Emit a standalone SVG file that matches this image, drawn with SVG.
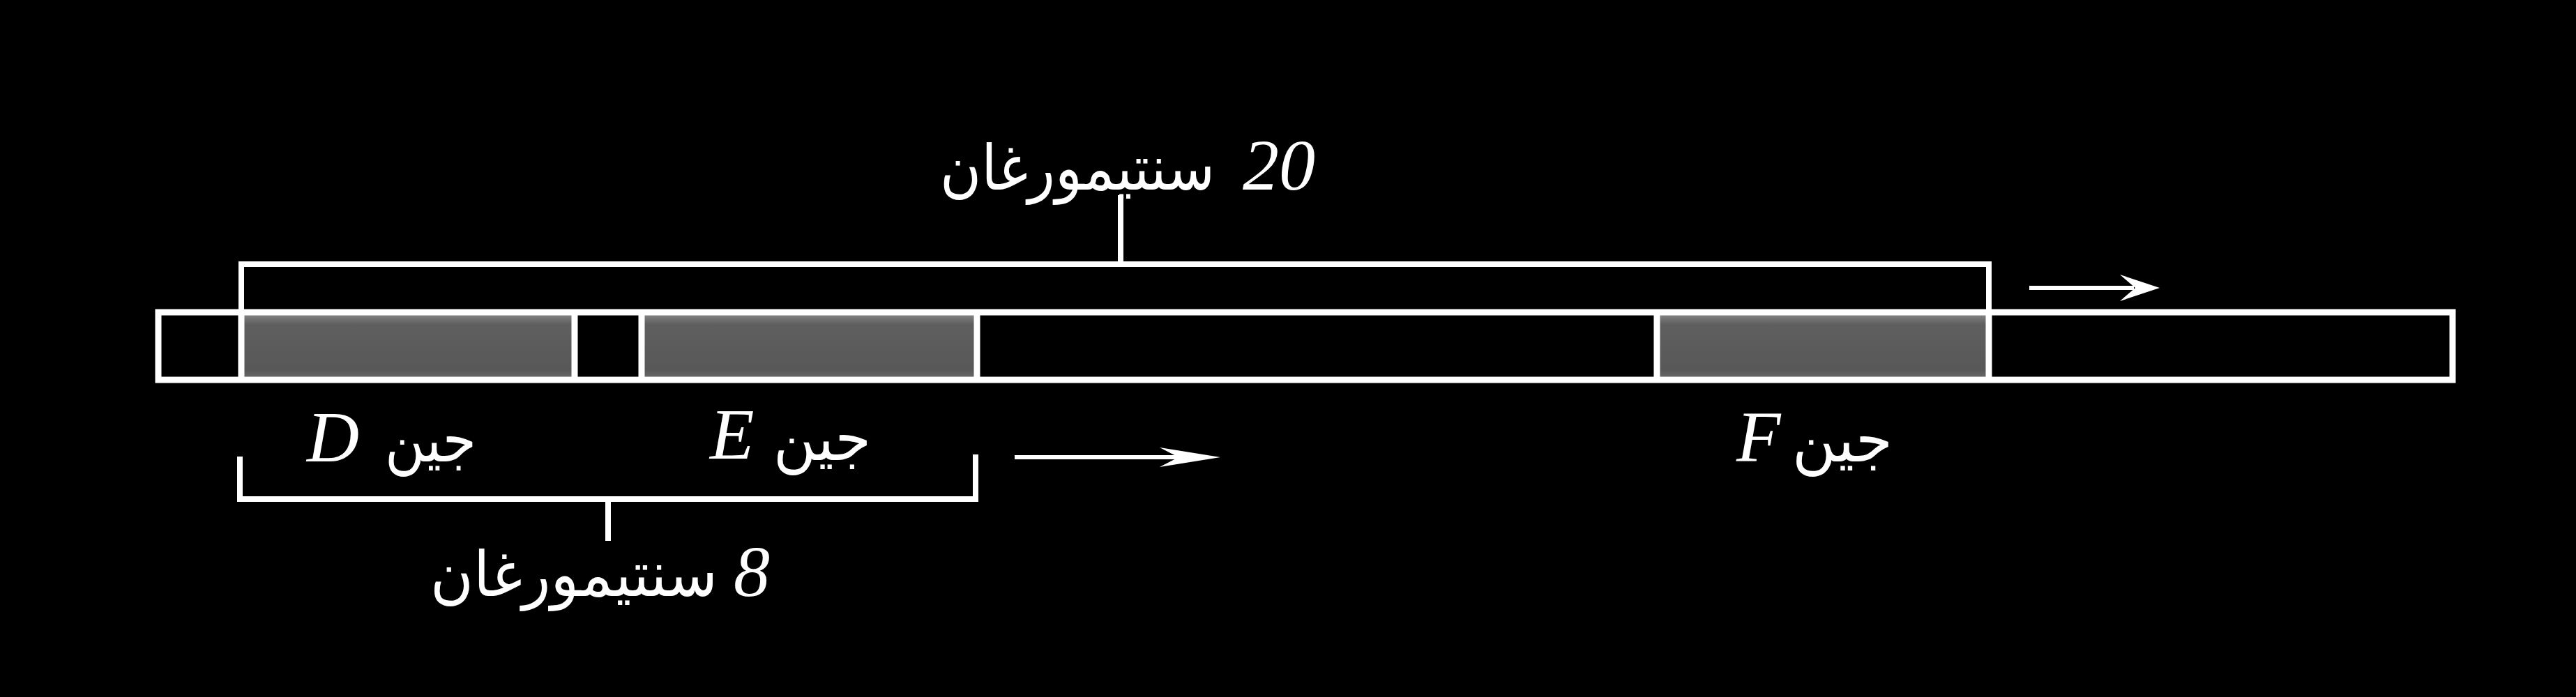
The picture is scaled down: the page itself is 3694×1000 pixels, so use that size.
<svg xmlns="http://www.w3.org/2000/svg" width="3694" height="1000" viewBox="0 0 3694 1000">
<style>
.ln{stroke:#fff;stroke-width:9;fill:none}
.br{stroke:#fff;stroke-width:8;fill:none}
.ar{stroke:#fff;stroke-width:6;fill:none}
.lat{font-family:"Liberation Serif","Times New Roman",serif;font-style:italic;font-size:104px;fill:#fff}
.arb{font-family:"DejaVu Sans","Noto Sans",sans-serif;font-size:90px;fill:#fff}
.gene{fill:url(#g)}
</style>
<defs>
<linearGradient id="g" x1="0" y1="0" x2="0" y2="1">
<stop offset="0" stop-color="#8c8c8c"/>
<stop offset="0.18" stop-color="#5f5f5f"/>
<stop offset="0.85" stop-color="#585858"/>
<stop offset="1" stop-color="#6c6c6c"/>
</linearGradient>
</defs>
<rect width="3694" height="1000" fill="#000"/>
<g id="chromosome">
<rect class="gene" x="346" y="448" width="478" height="97"/>
<rect class="gene" x="920" y="448" width="481" height="97"/>
<rect class="gene" x="2376" y="448" width="476" height="97"/>
<rect class="ln" x="227" y="448" width="3290" height="97"/>
<line class="ln" x1="346" y1="448" x2="346" y2="545"/>
<line class="ln" x1="824" y1="448" x2="824" y2="545"/>
<line class="ln" x1="920" y1="448" x2="920" y2="545"/>
<line class="ln" x1="1401" y1="448" x2="1401" y2="545"/>
<line class="ln" x1="2376" y1="448" x2="2376" y2="545"/>
<line class="ln" x1="2852" y1="448" x2="2852" y2="545"/>
</g>
<g id="connectors">
<path class="br" d="M346,448 V379 H2852 V448"/>
<path class="br" d="M1607,379 V280"/>
<path class="br" d="M344,655 V716 H1399 V652"/>
<path class="br" d="M872,716 V776"/>
<line class="ar" x1="2910" y1="413" x2="3060" y2="413"/>
<path fill="#fff" d="M3097,413 L3040,394 L3062,413 L3040,432 Z"/>
<line class="ar" x1="1455" y1="656" x2="1690" y2="656"/>
<path fill="#fff" d="M1750,656 L1663,642 L1690,656 L1663,670 Z"/>
</g>
<g id="label-20cM">
<text class="arb" x="1348" y="272" textLength="394" lengthAdjust="spacingAndGlyphs">سنتيمورغان</text>
<text class="lat" x="1782" y="272">20</text>
</g>
<g id="label-8cM">
<text class="arb" x="617" y="855" textLength="412" lengthAdjust="spacingAndGlyphs">سنتيمورغان</text>
<text class="lat" x="1052" y="855">8</text>
</g>
<g id="label-D">
<text class="lat" x="440" y="662">D</text>
<text class="arb" x="552" y="662" textLength="131" lengthAdjust="spacingAndGlyphs">جين</text>
</g>
<g id="label-E">
<text class="lat" x="1018" y="658">E</text>
<text class="arb" x="1109" y="660" textLength="140" lengthAdjust="spacingAndGlyphs">جين</text>
</g>
<g id="label-F">
<text class="lat" x="2490" y="662">F</text>
<text class="arb" x="2570" y="662" textLength="144" lengthAdjust="spacingAndGlyphs">جين</text>
</g>
</svg>
